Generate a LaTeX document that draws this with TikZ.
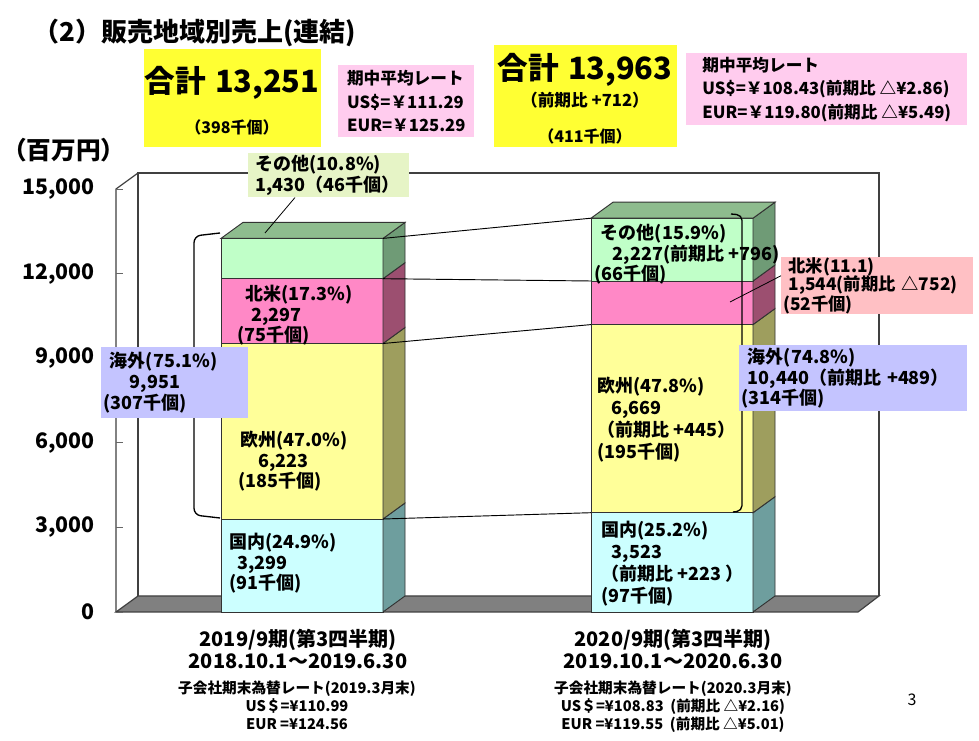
\documentclass[tikz,border=0pt]{standalone}
\usepackage{fontspec}
\setmainfont{Noto Sans CJK JP}
\usetikzlibrary{positioning}
\definecolor{kokunaiF}{HTML}{CCFFFF}
\definecolor{kokunaiS}{HTML}{6E9E9E}
\definecolor{oshuF}{HTML}{FFFF99}
\definecolor{oshuS}{HTML}{9E9E5E}
\definecolor{hokubeiF}{HTML}{FF88C6}
\definecolor{hokubeiS}{HTML}{9C4F70}
\definecolor{sonotaF}{HTML}{C0FFC8}
\definecolor{sonotaS}{HTML}{6F9B76}
\definecolor{sonotaT}{HTML}{8EBC8E}
\definecolor{sumyellow}{HTML}{FFFF33}
\definecolor{ratepink}{HTML}{FFCCEE}
\definecolor{kaigaiblue}{HTML}{C4C4FF}
\definecolor{hokubeibox}{HTML}{FFC0C4}
\definecolor{sonotabox}{HTML}{E6F4C6}
\definecolor{floorgray}{HTML}{808080}
\tikzset{frame/.style={draw=black!75,line width=0.9pt}}
\tikzset{seg/.style={draw=black!80,line width=0.7pt}}
\tikzset{barlbl/.style={inner sep=0pt,anchor=north west,align=left,
font=\bfseries\fontsize{13.5}{15.4}\selectfont}}
\tikzset{labelbox/.style={anchor=north west,align=left,inner xsep=1.5pt,inner ysep=0pt,
font=\bfseries\fontsize{13.5}{15.6}\selectfont}}
\tikzset{ratebox/.style={anchor=north west,align=left,inner xsep=2pt,inner ysep=0pt,fill=ratepink,
font=\bfseries\fontsize{12.5}{17.5}\selectfont}}
\tikzset{ylbl/.style={anchor=east,inner sep=0pt,font=\bfseries\fontsize{16}{18}\selectfont}}
\tikzset{period/.style={anchor=north,align=center,inner sep=0pt,font=\bfseries\fontsize{15}{16.5}\selectfont}}
\tikzset{fxrate/.style={anchor=north,align=center,inner sep=0pt,font=\bfseries\fontsize{11}{13.5}\selectfont}}
\newcommand{\barseg}[5]{%
  \filldraw[seg,fill=#4] (#1,#2) rectangle ({#1+162},#3);
  \filldraw[seg,fill=#5] ({#1+162},#2) -- ({#1+184},{#2-16}) -- ({#1+184},{#3-16}) -- ({#1+162},#3) -- cycle;}
\begin{document}
\begin{tikzpicture}[x=0.75pt,y=-0.75pt]
\useasboundingbox[fill=white] (0,0) rectangle (979,741);

% title and unit
\node[anchor=west,inner sep=0pt,font=\bfseries\fontsize{19.5}{22}\selectfont] (title) at (33,33) {（2）販売地域別売上(連結)};
\node[anchor=west,inner sep=0pt,font=\bfseries\fontsize{18.5}{22}\selectfont] (unit) at (2,150) {（百万円）};

% totals
\fill[sumyellow] (144,49) rectangle (321,147);
\node[font=\bfseries\fontsize{23}{28}\selectfont,inner sep=0pt] (sumA) at (232,83) {合計\hspace{0.3em}13,251};
\node[font=\bfseries\fontsize{12}{14}\selectfont,inner sep=0pt] (pcsA) at (232,127) {（398千個）};
\fill[sumyellow] (494,45) rectangle (677,147);
\node[font=\bfseries\fontsize{23}{28}\selectfont,inner sep=0pt] (sumB) at (585,70) {合計\hspace{0.3em}13,963};
\node[font=\bfseries\fontsize{12.5}{14}\selectfont,inner sep=0pt] (diffB) at (585,100) {（前期比 +712）};
\node[font=\bfseries\fontsize{12}{14}\selectfont,inner sep=0pt] (pcsB) at (585,136) {（411千個）};
\node[ratebox,minimum width=102pt,minimum height=54pt] (rateA) at (338,65) {期中平均レート\\US\$=￥111.29\\EUR=￥125.29};
\node[ratebox,minimum width=210.75pt,minimum height=54pt] (rateB) at (686,53) {期中平均レート\\US\$=￥108.43(前期比 △¥2.86)\\EUR=￥119.80(前期比 △¥5.49)};

% chart walls and floor
\draw[frame,fill=white] (138,596) -- (138,173) -- (879,173) -- (879,596);
\filldraw[frame,fill=floorgray] (116,612) -- (138,596) -- (879,596) -- (858,612) -- cycle;
\draw[frame] (116,612) -- (116,189) -- (138,173);
\foreach \v/\t in {0/0,3000/{3,000},6000/{6,000},9000/{9,000},12000/{12,000},15000/{15,000}} {
  \draw[black!60,line width=0.6pt] (116,{612-\v*0.0282}) -- (123,{612-\v*0.0282});
  \node[ylbl] (ytick\v) at (95,{612-\v*0.0282}) {\t};
}

% bars
\barseg{221}{612}{519}{kokunaiF}{kokunaiS}
\barseg{221}{519}{343.5}{oshuF}{oshuS}
\barseg{221}{343.5}{278.7}{hokubeiF}{hokubeiS}
\barseg{221}{278.7}{238.4}{sonotaF}{sonotaS}
\filldraw[seg,fill=sonotaT] (221,238.4) -- (243,222.4) -- (405,222.4) -- (383,238.4) -- cycle;
\barseg{591}{612}{512.7}{kokunaiF}{kokunaiS}
\barseg{591}{512.7}{324.6}{oshuF}{oshuS}
\barseg{591}{324.6}{281}{hokubeiF}{hokubeiS}
\barseg{591}{281}{218.2}{sonotaF}{sonotaS}
\filldraw[seg,fill=sonotaT] (591,218.2) -- (613,202.2) -- (775,202.2) -- (753,218.2) -- cycle;

% series lines
\coordinate (lTop) at (383,238.4);
\coordinate (rTop) at (591,218.2);
\coordinate (lNa) at (383,278.7);
\coordinate (rNa) at (591,281);
\coordinate (lEu) at (383,343.5);
\coordinate (rEu) at (591,324.6);
\coordinate (lJp) at (383,519);
\coordinate (rJp) at (591,512.7);
\draw[line width=0.7pt] (lTop) -- (rTop);
\draw[line width=0.7pt] (lNa) -- (rNa);
\draw[line width=0.7pt] (lEu) -- (rEu);
\draw[line width=0.7pt] (lJp) -- (rJp);

% brackets for overseas
\draw[line width=1pt,rounded corners=5pt] (220,233) -- (194,236) -- (194,515) -- (220,518);
\draw[line width=1pt,rounded corners=4pt] (731,214) -- (742,215) -- (742,511) -- (733,512);

% labels in bars
\node[barlbl] (naTextA) at (237,285) {\hspace*{6pt}北米(17.3\%)\\\hspace*{10.5pt}2,297\\(75千個)};
\node[barlbl] (euTextA) at (238,431) {\hspace*{1.5pt}欧州(47.0\%)\\\hspace*{15pt}6,223\\(185千個)};
\node[barlbl] (jpTextA) at (229,533) {国内(24.9\%)\\\hspace*{6pt}3,299\\(91千個)};
\node[barlbl,font=\bfseries\fontsize{13.5}{13.9}\selectfont] (otTextB) at (594,224) {\hspace*{5pt}その他(15.9\%)\\\hspace*{14pt}2,227(前期比 +796)\\(66千個)};
\node[barlbl,font=\bfseries\fontsize{13.5}{16.5}\selectfont] (euTextB) at (597,377) {欧州(47.8\%)\\\hspace*{10.5pt}6,669\\（前期比 +445）\\(195千個)};
\node[barlbl,font=\bfseries\fontsize{13.5}{16.5}\selectfont] (jpTextB) at (601,521) {国内(25.2\%)\\\hspace*{8pt}3,523\\（前期比 +223 ）\\(97千個)};

% callout boxes
\node[labelbox,fill=sonotabox,minimum width=120.75pt,minimum height=33pt,text width=117.75pt] (otA) at (248,153) {\hspace*{4pt}その他(10.8\%)\\\hspace*{4pt}1,430（46千個）};
\coordinate (otTopA) at (265,233);
\draw[line width=0.6pt] (otA.south west) ++(47,0) -- (otTopA);
\node[labelbox,fill=hokubeibox,minimum width=144pt,minimum height=42pt,text width=141pt,font=\bfseries\fontsize{13}{13.9}\selectfont] (naB) at (781,257) {\hspace*{4pt}北米(11.1)\\\hspace*{4pt}1,544(前期比 △752)\\(52千個)};
\coordinate (naFaceB) at (730,302);
\draw[line width=0.6pt] (naB.west) ++(0,-10) -- (naFaceB);
\node[labelbox,fill=kaigaiblue,minimum width=110.25pt,minimum height=53.25pt,text width=107.25pt] (osA) at (101,347) {\hspace*{5pt}海外(75.1\%)\\\hspace*{20pt}9,951\\(307千個)};
\node[labelbox,fill=kaigaiblue,minimum width=171pt,minimum height=49.5pt,text width=168pt] (osB) at (739,345) {\hspace*{5pt}海外(74.8\%)\\\hspace*{5pt}10,440（前期比 +489）\\(314千個)};

% category labels
\node[period] (perA) at (298,629) {2019/9期(第3四半期)\\2018.10.1～2019.6.30};
\node[fxrate] (fxA) at (297,681) {子会社期末為替レート(2019.3月末)\\US＄=¥110.99\\EUR =¥124.56};
\node[period] (perB) at (673,629) {2020/9期(第3四半期)\\2019.10.1～2020.6.30};
\node[fxrate] (fxB) at (673,681) {子会社期末為替レート(2020.3月末)\\US＄=¥108.83 \ (前期比 △¥2.16)\\EUR =¥119.55 \ (前期比 △¥5.01)};
\node[inner sep=0pt,font=\fontsize{12}{14}\selectfont] (pageno) at (912,700) {3};
\end{tikzpicture}
\end{document}
